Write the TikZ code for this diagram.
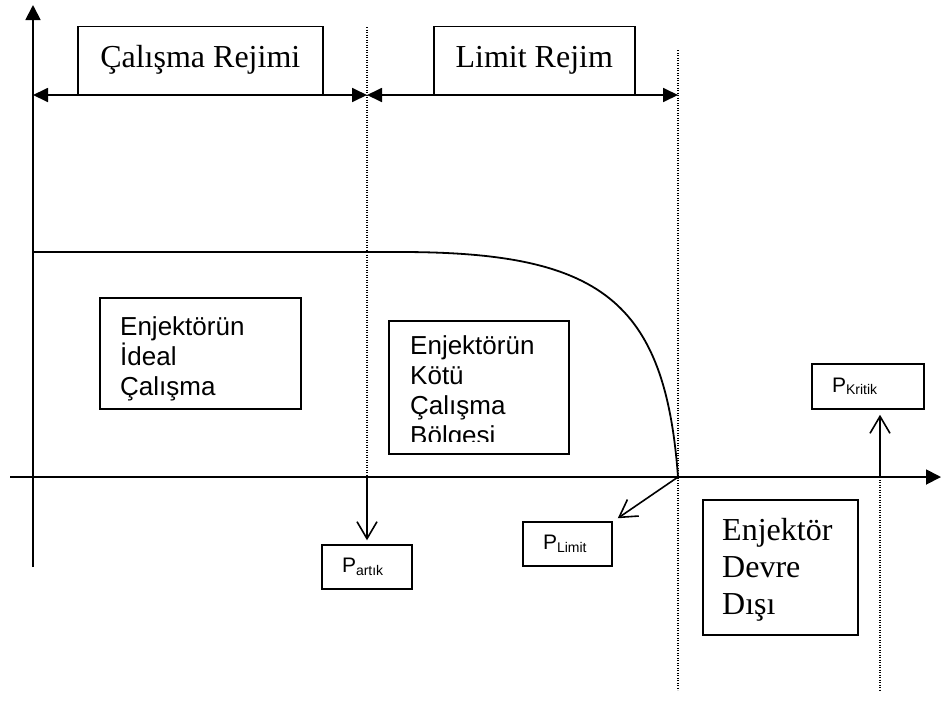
\documentclass[tikz,border=0pt]{standalone}
\usepackage{fontspec}
\setmainfont{Liberation Serif}
\newfontfamily\arialfont{Liberation Sans}
\usepackage{tikz}
\usetikzlibrary{arrows.meta,positioning,calc}
\newcommand{\psub}[1]{P\raisebox{-2.5pt}{\fontsize{14}{14}\selectfont #1}}

\begin{document}
\begin{tikzpicture}[x = 1pt, y = -1pt,
  axis/.style = {line width = 1.8pt},
  border/.style = {line width = 1.2pt, dash pattern = on 1.2pt off 1.3pt},
  rng/.style = {axis, {Triangle[length=15pt,width=14pt]}-{Triangle[length=15pt,width=14pt]}},
  ptr/.style = {line width = 1.6pt, -{Straight Barb[length=17pt,width=20pt]}},
  regime/.style = {draw, line width = 1.5pt, inner sep = 0pt, minimum height = 68pt,
    anchor = south west, font = \fontsize{32}{37}\selectfont},
  infobox/.style = {draw, line width = 1.5pt, inner sep = 0pt, anchor = north west},
  sanstext/.style = {inner sep = 0pt, anchor = base west, align = left, text width = 160pt,
    font = \arialfont\fontsize{26}{30}\selectfont},
  seriftext/.style = {inner sep = 0pt, anchor = base west, align = left, text width = 130pt,
    font = \fontsize{32}{37}\selectfont},
  pbox/.style = {draw, line width = 1.5pt, inner xsep = 20pt, inner ysep = 0pt,
    minimum height = 44pt, align = left, font = \arialfont\fontsize{21}{24}\selectfont}]
\useasboundingbox (0,0) rectangle (941,702);

% axes
\draw[axis, -{Triangle[length=15pt,width=15pt]}] (33,567) -- (33,5);
\draw[axis, -{Triangle[length=15pt,width=15pt]}] (10,477) -- (941,477);

% pressure points on the axis
\coordinate (artik) at (367,477);
\coordinate (limit) at (678,477);
\coordinate (kritik) at (880,477);

% region borders
\draw[border] (367,27) -- (artik);
\draw[border] (678,50) -- (limit) -- (678,690);
\draw[border] (kritik) -- (880,690);

% regimes
\draw[rng] (33,95) -- (367,95);
\draw[rng] (367,95) -- (678,95);
\node[regime, minimum width = 245pt] (calisma) at (77,95) {Çalışma Rejimi};
\node[regime, minimum width = 201pt] (limitrejim) at (433,95) {Limit Rejim};

% characteristic
\draw[axis] (33,252) -- (400,252) .. controls (600,252) and (665,300) .. (limit);

% regions
\node[infobox, minimum width = 201pt, minimum height = 111pt] (ideal) at (99,297) {};
\node[sanstext] (ideal-text) at (120,335) {Enjektörün\\İdeal\\Çalışma};

\begin{scope}
\clip (388,320) rectangle (568,441);
\node[sanstext] (kotu-text) at (410,354) {Enjektörün\\Kötü\\Çalışma\\Bölgesi};
\end{scope}
\node[infobox, minimum width = 180pt, minimum height = 133pt] (kotu) at (388,320) {};

\node[infobox, minimum width = 155pt, minimum height = 135pt] (disi) at (702,499) {};
\node[seriftext] (disi-text) at (722,540) {Enjektör\\Devre\\Dışı};

% pressure labels
\node[pbox, text width = 50pt] (partik) at (367,567) {\psub{artık}};
\node[pbox, text width = 49pt] (plimit) at (567.5,544) {\psub{Limit}};
\node[pbox, text width = 72pt, minimum height = 45pt] (pkritik) at (868,386.5) {\psub{Kritik}};

\draw[ptr, shorten >= 4pt] (artik) -- (artik |- partik.north);
\draw[ptr] (limit) -- ([xshift = 5pt, yshift = 3pt]plimit.north east);
\draw[ptr, shorten >= 5pt] (kritik) -- (kritik |- pkritik.south);
\end{tikzpicture}
\end{document}
